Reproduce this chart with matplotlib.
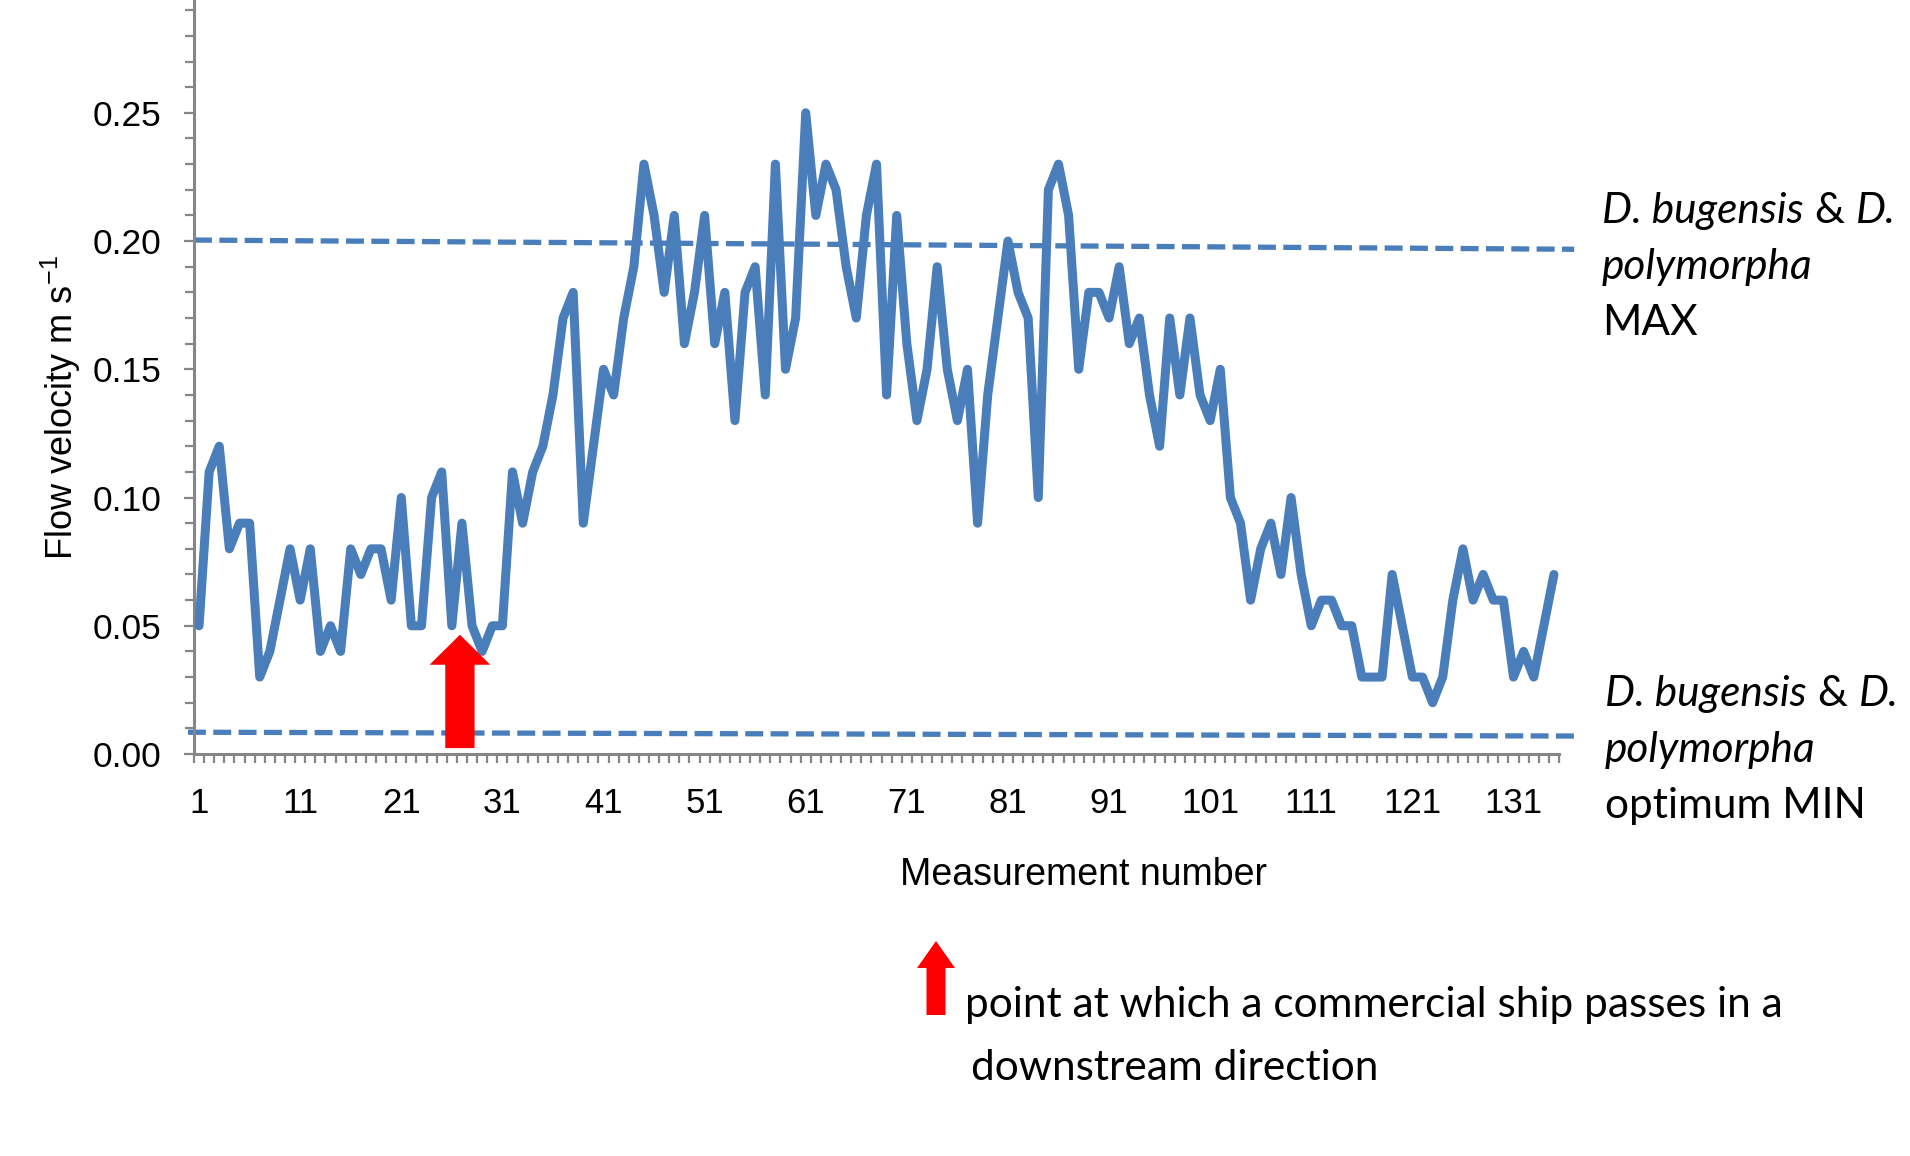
import numpy as np
import matplotlib
matplotlib.use("Agg")
import matplotlib.pyplot as plt
from matplotlib.patches import FancyArrow
from matplotlib.ticker import MultipleLocator, FixedLocator, FormatStrFormatter

# flow velocity (m/s) for each measurement
measurement = list(range(1, 136))
velocity = [
    0.05, 0.11, 0.12, 0.08, 0.09, 0.09, 0.03, 0.04, 0.06, 0.08,
    0.06, 0.08, 0.04, 0.05, 0.04, 0.08, 0.07, 0.08, 0.08, 0.06,
    0.10, 0.05, 0.05, 0.10, 0.11, 0.05, 0.09, 0.05, 0.04, 0.05,
    0.05, 0.11, 0.09, 0.11, 0.12, 0.14, 0.17, 0.18, 0.09, 0.12,
    0.15, 0.14, 0.17, 0.19, 0.23, 0.21, 0.18, 0.21, 0.16, 0.18,
    0.21, 0.16, 0.18, 0.13, 0.18, 0.19, 0.14, 0.23, 0.15, 0.17,
    0.25, 0.21, 0.23, 0.22, 0.19, 0.17, 0.21, 0.23, 0.14, 0.21,
    0.16, 0.13, 0.15, 0.19, 0.15, 0.13, 0.15, 0.09, 0.14, 0.17,
    0.20, 0.18, 0.17, 0.10, 0.22, 0.23, 0.21, 0.15, 0.18, 0.18,
    0.17, 0.19, 0.16, 0.17, 0.14, 0.12, 0.17, 0.14, 0.17, 0.14,
    0.13, 0.15, 0.10, 0.09, 0.06, 0.08, 0.09, 0.07, 0.10, 0.07,
    0.05, 0.06, 0.06, 0.05, 0.05, 0.03, 0.03, 0.03, 0.07, 0.05,
    0.03, 0.03, 0.02, 0.03, 0.06, 0.08, 0.06, 0.07, 0.06, 0.06,
    0.03, 0.04, 0.03, 0.05, 0.07,
]

# hand-drawn limit lines (start / end values, slightly sloped)
max_line_x = [0.5, 137.0]
max_line_y = [0.2004, 0.1968]
min_line_x = [-0.1, 137.0]
min_line_y = [0.0085, 0.0070]

ship_pass = 26.8  # measurement where the ship passes

xtick_labels = list(range(1, 136, 10))

W, H = 1910, 1156
blue = '#4a7ebb'
grey = '#868686'
anno_font = 'Lato'
anno_size = 30.5

plt.rcParams['font.family'] = ['Liberation Sans', 'DejaVu Sans']
plt.rcParams['mathtext.default'] = 'regular'

fig = plt.figure(figsize=(W / 100, H / 100), dpi=100)
ax = fig.add_axes([194 / W, 1 - 754 / H, (1559 - 194) / W, 754 / H])

ax.plot(measurement, velocity, color=blue, lw=6.5, solid_joinstyle='round',
        solid_capstyle='round', zorder=3)
ax.plot(max_line_x, max_line_y, color=blue, lw=3.8, dashes=(3.4, 1.4),
        clip_on=False, zorder=2)
ax.plot(min_line_x, min_line_y, color=blue, lw=3.8, dashes=(3.4, 1.4),
        clip_on=False, zorder=2)

ax.add_patch(FancyArrow(ship_pass, 0.0023, 0, 0.0442, width=2.9,
                        head_width=6.0, head_length=0.0117,
                        length_includes_head=True, color='#ff0000',
                        lw=0, zorder=4))

ax.set_xlim(0.5, 135.5)
ax.set_ylim(0, 0.294)

for s in ['top', 'right']:
    ax.spines[s].set_visible(False)
for s in ['left', 'bottom']:
    ax.spines[s].set_color(grey)
    ax.spines[s].set_linewidth(2.2)

ax.xaxis.set_major_locator(FixedLocator(xtick_labels))
ax.xaxis.set_minor_locator(FixedLocator(np.arange(0.5, 136, 1.0)))
ax.tick_params(axis='x', which='major', length=0, pad=24, labelsize=25)
ax.tick_params(axis='x', which='minor', length=6.5, width=1.6, color=grey)

ax.yaxis.set_major_locator(MultipleLocator(0.05))
ax.yaxis.set_minor_locator(MultipleLocator(0.01))
ax.yaxis.set_major_formatter(FormatStrFormatter('%.2f'))
ax.tick_params(axis='y', which='major', length=7.5, width=1.6, color=grey,
               pad=16, labelsize=25.5)
ax.tick_params(axis='y', which='minor', length=6.5, width=1.6, color=grey)

ax.set_xlabel('Measurement number', fontsize=27)
ax.xaxis.set_label_coords((1083 - 194) / 1365, (754 - 875) / 754)
ax.xaxis.label.set_va('center')
ax.set_ylabel('Flow velocity m s$^{-1}$', fontsize=26)
ax.yaxis.set_label_coords((61 - 194) / 1365, (754 - 408) / 754)
ax.yaxis.label.set_va('center')

# side annotations, mixing italic and upright pieces
renderer = fig.canvas.get_renderer()


def put_line(x_px, y_px, pieces, size=anno_size):
    x = x_px / W
    for txt, style in pieces:
        t = fig.text(x, 1 - y_px / H, txt, fontsize=size, style=style,
                     family=anno_font, ha='left', va='center')
        bb = t.get_window_extent(renderer)
        x += bb.width / W


species = [('D. bugensis', 'italic'), (' & ', 'normal'), ('D.', 'italic')]
put_line(1602, 211, species)
put_line(1602, 267, [('polymorpha', 'italic')])
put_line(1602, 323, [('MAX', 'normal')])
put_line(1605, 694, species)
put_line(1605, 750, [('polymorpha', 'italic')])
put_line(1605, 806, [('optimum MIN', 'normal')])

# key for the red arrow
fig.patches.append(FancyArrow(936 / W, 1 - 1015 / H, 0, 74 / H,
                              width=19 / W, head_width=38 / W,
                              head_length=27 / H, length_includes_head=True,
                              color='#ff0000', lw=0,
                              transform=fig.transFigure, figure=fig))
put_line(965, 1005, [('point at which a commercial ship passes in a', 'normal')])
put_line(971, 1068, [('downstream direction', 'normal')])

fig.savefig('out.png', dpi=100)
